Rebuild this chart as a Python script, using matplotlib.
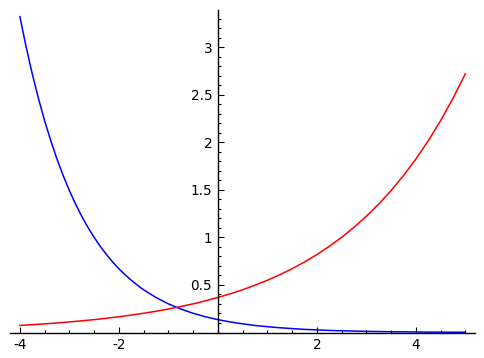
import matplotlib
matplotlib.use("Agg")
import matplotlib.pyplot as plt
from matplotlib.ticker import MultipleLocator, FixedLocator

# values
red_x = [-4.0, -3.75, -3.5, -3.25, -3.0, -2.75, -2.5, -2.25, -2.0, -1.75, -1.5, -1.25,
         -1.0, -0.75, -0.5, -0.25, 0.0, 0.25, 0.5, 0.75, 1.0, 1.25, 1.5, 1.75,
         2.0, 2.25, 2.5, 2.75, 3.0, 3.25, 3.5, 3.75, 4.0, 4.25, 4.5, 4.75, 5.0]
red_y = [0.074, 0.082, 0.091, 0.100, 0.111, 0.123, 0.135, 0.150, 0.165, 0.183, 0.202, 0.223,
         0.247, 0.273, 0.301, 0.333, 0.368, 0.407, 0.449, 0.497, 0.549, 0.607, 0.670, 0.741,
         0.819, 0.905, 1.000, 1.105, 1.221, 1.350, 1.492, 1.649, 1.822, 2.014, 2.226, 2.460, 2.718]

blue_x = [-4.0, -3.875, -3.75, -3.625, -3.5, -3.375, -3.25, -3.125, -3.0, -2.875, -2.75, -2.625,
          -2.5, -2.375, -2.25, -2.125, -2.0, -1.875, -1.75, -1.625, -1.5, -1.25,
          -1.0, -0.75, -0.5, -0.25, 0.0, 0.25, 0.5, 0.75, 1.0, 1.25, 1.5, 1.75,
          2.0, 2.25, 2.5, 2.75, 3.0, 3.25, 3.5, 3.75, 4.0, 4.25, 4.5, 4.75, 5.0]
blue_y = [3.320, 3.004, 2.718, 2.460, 2.226, 2.014, 1.822, 1.649, 1.492, 1.350, 1.221, 1.105,
          1.000, 0.905, 0.819, 0.741, 0.670, 0.607, 0.549, 0.497, 0.449, 0.368,
          0.301, 0.247, 0.202, 0.165, 0.135, 0.111, 0.091, 0.074, 0.061, 0.050, 0.041, 0.033,
          0.027, 0.022, 0.018, 0.015, 0.012, 0.010, 0.008, 0.007, 0.0055, 0.0045, 0.0037, 0.0030, 0.0025]

x_ticks = [-4, -2, 2, 4]
x_labels = ["-4", "-2", "2", "4"]
y_ticks = [0.5, 1, 1.5, 2, 2.5, 3]
y_labels = ["0.5", "1", "1.5", "2", "2.5", "3"]

fig = plt.figure(figsize=(4.84, 3.58), dpi=100)
ax = fig.add_axes([10 / 484, (358 - 332.5) / 358, 464.7 / 484, 322.5 / 358])

ax.plot(blue_x, blue_y, color="#0000ff", lw=1.1)
ax.plot(red_x, red_y, color="#ff0000", lw=1.1)

ax.set_xlim(-4.2, 5.19)
ax.set_ylim(0, 3.39)

ax.spines["left"].set_position(("data", 0))
ax.spines["bottom"].set_position(("data", 0))
ax.spines["top"].set_visible(False)
ax.spines["right"].set_visible(False)
for s in ("left", "bottom"):
    ax.spines[s].set_linewidth(1.0)
    ax.spines[s].set_clip_on(False)

ax.xaxis.set_major_locator(FixedLocator(x_ticks))
ax.set_xticklabels(x_labels)
ax.xaxis.set_minor_locator(MultipleLocator(0.5))
ax.yaxis.set_major_locator(FixedLocator(y_ticks))
ax.set_yticklabels(y_labels)
ax.yaxis.set_minor_locator(MultipleLocator(0.1))

ax.tick_params(which="both", direction="in", width=0.8, labelsize=9.8, pad=4)
ax.tick_params(which="major", length=4)
ax.tick_params(which="minor", length=2.2)

fig.savefig("out.png", dpi=100)
